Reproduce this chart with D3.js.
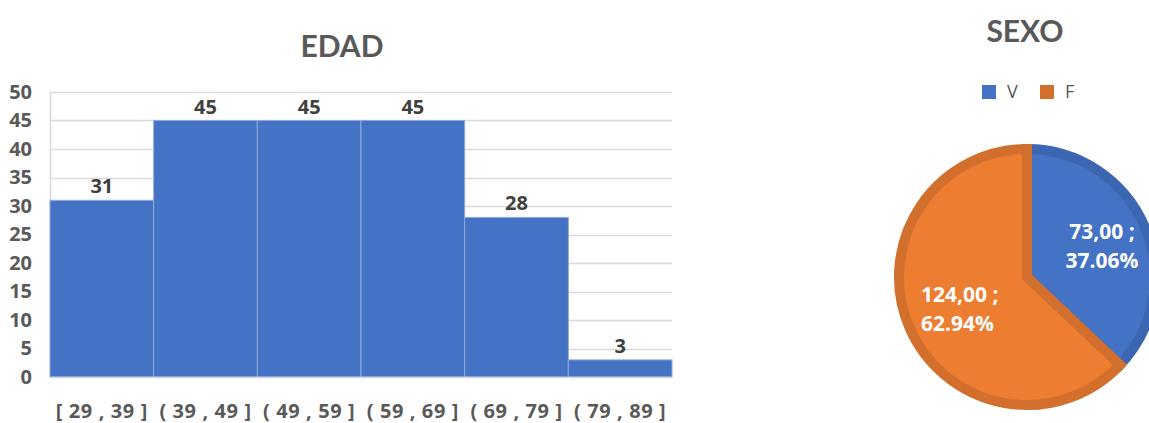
<!DOCTYPE html>
<html>
<head>
<meta charset="utf-8">
<script src="https://cdn.jsdelivr.net/npm/d3@7"></script>
<style>
  html, body { margin: 0; padding: 0; background: #fff; }
  svg { display: block; font-family: "Open Sans", sans-serif; }
</style>
</head>
<body>
<svg id="chart" width="1149" height="423"></svg>
<script>
// Age histogram
const ageBins = ["[ 29 , 39 ]", "( 39 , 49 ]", "( 49 , 59 ]", "( 59 , 69 ]", "( 69 , 79 ]", "( 79 , 89 ]"];
const ageCounts = [31, 45, 45, 45, 28, 3];
const ageTicks = [0, 5, 10, 15, 20, 25, 30, 35, 40, 45, 50];

// Sex pie
const sexLabels = ["V", "F"];
const sexCounts = [73, 124];
const sexPercents = ["37.06%", "62.94%"];

const svg = d3.select("#chart");
const textGray = "#595959";
const bodyFont = "'Open Sans', sans-serif";
const titleFont = "Lato, 'Open Sans', sans-serif";
const blue = "#4472C4", blueEdge = "#3C66B2";
const orange = "#ED7D31", orangeEdge = "#D36F2D";

// ---------- EDAD ----------
const x = d3.scaleBand().domain(ageBins).range([50, 672]).padding(0);
const y = d3.scaleLinear().domain([0, 50]).range([377, 92]);

svg.append("text")
  .attr("x", 342).attr("y", 57)
  .attr("text-anchor", "middle")
  .attr("font-family", titleFont)
  .attr("font-size", 30).attr("font-weight", 700)
  .attr("fill", textGray)
  .text("EDAD");

// horizontal gridlines
svg.append("g").selectAll("line").data(ageTicks).join("line")
  .attr("x1", 50).attr("x2", 672)
  .attr("y1", d => Math.round(y(d)) + 0.5).attr("y2", d => Math.round(y(d)) + 0.5)
  .attr("stroke", "#D9D9D9").attr("stroke-width", 1.5);

// left axis line
svg.append("line")
  .attr("x1", 50.5).attr("x2", 50.5)
  .attr("y1", y(50)).attr("y2", y(0))
  .attr("stroke", "#D9D9D9").attr("stroke-width", 1.5);

// y tick labels
const yAxis = d3.axisLeft(y).tickValues(ageTicks).tickSize(0).tickPadding(18);
const yg = svg.append("g").attr("transform", "translate(50,0)").call(yAxis);
yg.select(".domain").remove();
yg.selectAll("text")
  .attr("font-family", bodyFont)
  .attr("font-size", 20).attr("font-weight", 700).attr("fill", textGray);

// bars
svg.append("g").selectAll("rect").data(ageCounts).join("rect")
  .attr("x", (d, i) => x(ageBins[i]))
  .attr("width", x.bandwidth())
  .attr("y", d => y(d))
  .attr("height", d => y(0) - y(d))
  .attr("fill", blue)
  .attr("stroke", "#8FAADC").attr("stroke-width", 1);

// value labels
svg.append("g").selectAll("text").data(ageCounts).join("text")
  .attr("x", (d, i) => x(ageBins[i]) + x.bandwidth() / 2)
  .attr("y", d => y(d) - 7)
  .attr("text-anchor", "middle")
  .attr("font-family", bodyFont)
  .attr("font-size", 20).attr("font-weight", 700)
  .attr("fill", "#404040")
  .text(d => d);

// x labels
const xAxis = d3.axisBottom(x).tickSize(0).tickPadding(27);
const xg = svg.append("g").attr("transform", `translate(0,${y(0)})`).call(xAxis);
xg.select(".domain").attr("stroke", "#D9D9D9").attr("stroke-width", 1.5);
xg.selectAll("text")
  .attr("font-family", bodyFont)
  .attr("font-size", 20).attr("font-weight", 700).attr("fill", textGray)
  .attr("letter-spacing", 0.6);

// ---------- SEXO ----------
svg.append("text")
  .attr("x", 1025).attr("y", 42)
  .attr("text-anchor", "middle")
  .attr("font-family", titleFont)
  .attr("font-size", 30).attr("font-weight", 700)
  .attr("fill", textGray)
  .text("SEXO");

const legendX = [982, 1040];
const legend = svg.append("g").selectAll("g").data(sexLabels).join("g")
  .attr("transform", (d, i) => `translate(${legendX[i]},85)`);
legend.append("rect")
  .attr("width", 14).attr("height", 14)
  .attr("fill", (d, i) => i === 0 ? blue : orangeEdge);
legend.append("text")
  .attr("x", 25).attr("y", 13)
  .attr("font-family", bodyFont)
  .attr("font-size", 18).attr("fill", textGray)
  .text(d => d);

const cx = 1027, cy = 277, r = 128;
const pie = d3.pie().sort(null).value(d => d)(sexCounts);
const arc = d3.arc().innerRadius(0).outerRadius(r);
const pg = svg.append("g").attr("transform", `translate(${cx},${cy})`);
pg.selectAll("path").data(pie).join("path")
  .attr("d", arc)
  .attr("fill", (d, i) => i === 0 ? blue : orange)
  .attr("stroke", (d, i) => i === 0 ? blueEdge : orangeEdge)
  .attr("stroke-width", 10)
  .attr("stroke-linejoin", "miter");

// slice labels
const labelPos = [
  { x: 1102, y: 239, anchor: "middle" },
  { x: 921, y: 302, anchor: "start" }
];
pie.forEach((d, i) => {
  const t = svg.append("text")
    .attr("x", labelPos[i].x).attr("y", labelPos[i].y)
    .attr("text-anchor", labelPos[i].anchor)
    .attr("font-family", bodyFont)
    .attr("font-size", 21).attr("font-weight", 700).attr("fill", "#fff");
  t.append("tspan").attr("x", labelPos[i].x).attr("dy", 0)
    .text(d3.format(".2f")(d.value).replace(".", ",") + " ;");
  t.append("tspan").attr("x", labelPos[i].x).attr("dy", 29)
    .text(sexPercents[i]);
});
</script>
</body>
</html>
